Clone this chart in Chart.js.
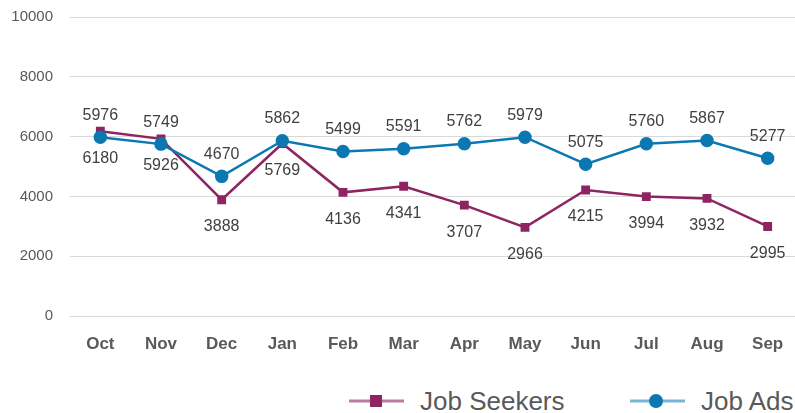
<!DOCTYPE html>
<html><head><meta charset="utf-8">
<script src="https://cdn.jsdelivr.net/npm/chart.js@4/dist/chart.umd.min.js"></script>
<style>
html,body{margin:0;padding:0;background:#fff;width:795px;height:413px;overflow:hidden;font-family:"Liberation Sans",Arial,sans-serif;position:relative;}
#wrap{position:absolute;left:0;top:0;width:806px;height:370px;}
#legend{position:absolute;left:0;top:370px;width:795px;height:43px;}
.item{position:absolute;top:16px;display:flex;align-items:center;color:#595959;font-size:26px;white-space:nowrap;line-height:30px;}
.item svg{margin-right:14px;}
</style></head><body>
<div id="wrap"><canvas id="c"></canvas></div>
<div id="legend">
  <div class="item" style="left:348px"><svg width="58" height="30"><line x1="1" y1="15" x2="56" y2="15" stroke="#8E2461" stroke-opacity="0.6" stroke-width="3"/><rect x="22" y="9" width="12" height="12" fill="#8E2461"/></svg>Job Seekers</div>
  <div class="item" style="left:629px"><svg width="58" height="30"><line x1="1" y1="15" x2="56" y2="15" stroke="#0B78B2" stroke-opacity="0.55" stroke-width="3"/><circle cx="27" cy="15" r="7" fill="#0B78B2"/></svg>Job Ads</div>
</div>
<script>
const categories = ["Oct","Nov","Dec","Jan","Feb","Mar","Apr","May","Jun","Jul","Aug","Sep"];
const jobSeekers = [6180,5926,3888,5769,4136,4341,3707,2966,4215,3994,3932,2995];
const jobAds = [5976,5749,4670,5862,5499,5591,5762,5979,5075,5760,5867,5277];
const yTicks = [0,2000,4000,6000,8000,10000];

const seekerColor = "#8E2461";
const adsColor = "#0B78B2";

const labelPlugin = {
  id: "valueLabels",
  afterDatasetsDraw(chart) {
    const ctx = chart.ctx;
    ctx.save();
    ctx.font = "16px 'Liberation Sans', Arial, sans-serif";
    ctx.fillStyle = "#404040";
    ctx.textAlign = "center";
    ctx.textBaseline = "middle";
    chart.data.datasets.forEach((ds, i) => {
      const meta = chart.getDatasetMeta(i);
      meta.data.forEach((pt, j) => {
        const off = ds.labelPos === "above" ? -22 : 27;
        ctx.fillText(String(ds.data[j]), pt.x, pt.y + off);
      });
    });
    ctx.restore();
  }
};

new Chart(document.getElementById("c"), {
  type: "line",
  data: {
    labels: categories,
    datasets: [
      {
        label: "Job Ads", data: jobAds, labelPos: "above",
        borderColor: adsColor, backgroundColor: adsColor, borderWidth: 2.5,
        pointStyle: "circle", pointRadius: 5.5, pointHoverRadius: 5.5, tension: 0, order: 0
      },
      {
        label: "Job Seekers", data: jobSeekers, labelPos: "below",
        borderColor: seekerColor, backgroundColor: seekerColor, borderWidth: 2.5,
        pointStyle: "rect", pointRadius: 4.5, pointHoverRadius: 4.5, tension: 0, order: 1
      }
    ]
  },
  options: {
    responsive: true, maintainAspectRatio: false, animation: false,
    layout: { padding: { top: 17, right: 0, left: 0, bottom: 0 } },
    plugins: { legend: { display: false }, tooltip: { enabled: false } },
    scales: {
      x: {
        offset: true,
        grid: { display: false, drawTicks: false },
        border: { display: false },
        ticks: { color: "#595959", font: { size: 17, weight: "bold", family: "'Liberation Sans', Arial, sans-serif" }, padding: 18 },
        afterFit(s) { s.height = 54; s.paddingLeft = 0; s.paddingRight = 0; }
      },
      y: {
        min: 0, max: 10000,
        afterBuildTicks(s) { s.ticks = yTicks.map(v => ({ value: v })); },
        grid: { color: "#D9D9D9", lineWidth: 1, drawTicks: false },
        border: { display: false },
        ticks: { color: "#595959", font: { size: 15, family: "'Liberation Sans', Arial, sans-serif" }, padding: 17, callback: v => String(v) },
        afterFit(s) { s.width = 70; s.paddingTop = 0; s.paddingBottom = 0; }
      }
    }
  },
  plugins: [labelPlugin]
});
</script>
</body></html>
